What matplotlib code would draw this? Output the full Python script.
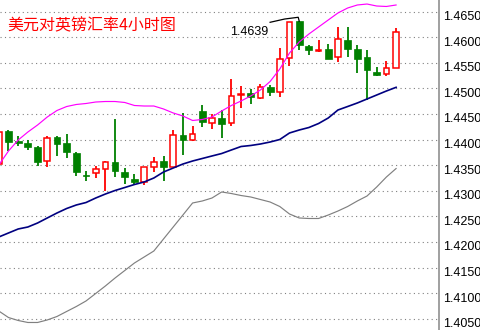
import matplotlib.pyplot as plt
import numpy as np

plt.rcParams['font.family'] = ['Noto Sans CJK SC', 'DejaVu Sans']

# 4-hour candles, USD/GBP (oldest first)
opens = [1.4353, 1.4417, 1.4398, 1.4394, 1.4386, 1.4359, 1.4405, 1.4394, 1.4374, 1.4332,
         1.4334, 1.4343, 1.4356, 1.4337, 1.4323, 1.4318, 1.4346, 1.4358, 1.4347, 1.4409,
         1.4399, 1.4456, 1.4433, 1.4442, 1.4432, 1.4488, 1.4491, 1.4482, 1.4503, 1.4493,
         1.4559, 1.4632, 1.4583, 1.4574, 1.4577, 1.4561, 1.4594, 1.4577, 1.4562, 1.4532,
         1.4528, 1.4541]
highs = [1.4416, 1.4419, 1.4407, 1.4399, 1.4388, 1.4408, 1.4407, 1.4412, 1.4376, 1.4339,
         1.4349, 1.4358, 1.4440, 1.4345, 1.4333, 1.4347, 1.4366, 1.4368, 1.4418, 1.4453,
         1.4427, 1.4468, 1.4450, 1.4458, 1.4519, 1.4505, 1.4499, 1.4508, 1.4507, 1.4579,
         1.4630, 1.4632, 1.4585, 1.4594, 1.4587, 1.4620, 1.4620, 1.4585, 1.4575, 1.4542,
         1.4554, 1.4618]
lows = [1.4350, 1.4378, 1.4388, 1.4380, 1.4349, 1.4347, 1.4369, 1.4365, 1.4329, 1.4320,
        1.4326, 1.4300, 1.4327, 1.4313, 1.4313, 1.4312, 1.4336, 1.4320, 1.4346, 1.4370,
        1.4398, 1.4425, 1.4421, 1.4404, 1.4427, 1.4462, 1.4470, 1.4479, 1.4486, 1.4484,
        1.4544, 1.4575, 1.4565, 1.4572, 1.4557, 1.4552, 1.4561, 1.4531, 1.4477, 1.4525,
        1.4525, 1.4541]
closes = [1.4415, 1.4396, 1.4394, 1.4386, 1.4357, 1.4403, 1.4392, 1.4375, 1.4337, 1.4330,
          1.4342, 1.4356, 1.4339, 1.4327, 1.4317, 1.4347, 1.4356, 1.4347, 1.4409, 1.4399,
          1.4411, 1.4435, 1.4442, 1.4431, 1.4485, 1.4489, 1.4484, 1.4502, 1.4494, 1.4558,
          1.4629, 1.4584, 1.4575, 1.4575, 1.4558, 1.4597, 1.4578, 1.4558, 1.4537, 1.4527,
          1.4541, 1.4610]

# Bollinger bands
upper = [1.43506, 1.43779, 1.43994, 1.44150, 1.44287, 1.44443, 1.44570, 1.44648, 1.44688, 1.44707,
         1.44736, 1.44746, 1.44746, 1.44727, 1.44668, 1.44658, 1.44658, 1.44600, 1.44522, 1.44463,
         1.44375, 1.44395, 1.44443, 1.44561, 1.44668, 1.44756, 1.44854, 1.44971, 1.45137, 1.45381,
         1.45693, 1.45908, 1.46064, 1.46201, 1.46338, 1.46475, 1.46572, 1.46631, 1.46650, 1.46611,
         1.46602, 1.46631]
middle = [1.42100, 1.42178, 1.42256, 1.42295, 1.42373, 1.42471, 1.42568, 1.42656, 1.42725, 1.42773,
          1.42861, 1.42939, 1.43008, 1.43066, 1.43125, 1.43174, 1.43252, 1.43369, 1.43447, 1.43525,
          1.43584, 1.43633, 1.43682, 1.43730, 1.43799, 1.43867, 1.43887, 1.43916, 1.43955, 1.44004,
          1.44131, 1.44189, 1.44238, 1.44316, 1.44424, 1.44580, 1.44648, 1.44717, 1.44795, 1.44873,
          1.44951, 1.45023]
lower = [1.40654, 1.40527, 1.40469, 1.40430, 1.40430, 1.40479, 1.40547, 1.40645, 1.40742, 1.40850,
         1.40996, 1.41143, 1.41299, 1.41445, 1.41592, 1.41709, 1.41826, 1.42061, 1.42295, 1.42529,
         1.42764, 1.42803, 1.42861, 1.42979, 1.42949, 1.42910, 1.42881, 1.42832, 1.42783, 1.42695,
         1.42549, 1.42471, 1.42461, 1.42461, 1.42529, 1.42607, 1.42695, 1.42803, 1.42900, 1.43076,
         1.43271, 1.43437]

# high marker line and its label
hi_line_x = [28.0, 29.5, 30.9, 31.0]
hi_line_y = [1.46293, 1.46357, 1.46391, 1.46318]
hi_label = '1.4639'

price_levels = [1.4050, 1.4100, 1.4150, 1.4200, 1.4250, 1.4300, 1.4350,
                1.4400, 1.4450, 1.4500, 1.4550, 1.4600, 1.4650]
title = '美元对英镑汇率4小时图'

fig = plt.figure(figsize=(4.81, 3.30), dpi=100)
ax = fig.add_axes([0, 0, 439 / 481, 1])

x = np.arange(len(opens))
o = np.array(opens)
h = np.array(highs)
l = np.array(lows)
c = np.array(closes)
up = c >= o

# wicks
ax.vlines(x[up], l[up], h[up], color='#ff0000', lw=1.3, zorder=2)
ax.vlines(x[~up], l[~up], h[~up], color='#008000', lw=1.3, zorder=2)

# bodies
ax.bar(x[up], c[up] - o[up], bottom=o[up], width=0.58, facecolor='white',
       edgecolor='#ff0000', linewidth=1.1, zorder=3)
dn_h = np.maximum(o[~up] - c[~up], 0.00008)
ax.bar(x[~up], dn_h, bottom=c[~up], width=0.7, color='#008000',
       edgecolor='#008000', linewidth=0.5, zorder=3)

# bands
ax.plot(x, upper, color='#ff00ff', lw=0.85, zorder=4)
ax.plot(x, middle, color='#000080', lw=1.2, zorder=4)
ax.plot(x, lower, color='#808080', lw=0.85, zorder=4)

# high marker
ax.plot(hi_line_x, hi_line_y, color='black', lw=0.9, zorder=5)
ax.annotate(hi_label, xy=(hi_line_x[0], hi_line_y[0]), xytext=(-1, -9.4),
            textcoords='offset points', ha='right', va='baseline',
            fontsize=9, family='Liberation Sans', color='black')

ax.set_xlim(0.124, 45.43)
ax.set_ylim(1.402832, 1.467285)

ax.set_yticks(price_levels)
ax.set_xticks([])
ax.tick_params(axis='y', length=0, labelleft=False, labelright=False)
ax.grid(axis='y', color='#808080', linestyle=(0, (1, 3)), linewidth=0.8)
ax.set_axisbelow(True)

for s in ['top', 'left', 'bottom']:
    ax.spines[s].set_visible(False)
ax.spines['right'].set_color('#909090')
ax.spines['right'].set_linewidth(1.2)

for lv in price_levels:
    ax.annotate(f'{lv:.4f}', xy=(1, lv), xycoords=('axes fraction', 'data'),
                xytext=(3, -6), textcoords='offset points', ha='left', va='baseline',
                fontsize=9, family='Liberation Sans', color='black',
                annotation_clip=False)

ax.text(7 / 439, 1 - 25.5 / 330, title, transform=ax.transAxes, ha='left', va='center',
        fontsize=11.5, color='#ff0000')

fig.savefig('out.png', dpi=100)
